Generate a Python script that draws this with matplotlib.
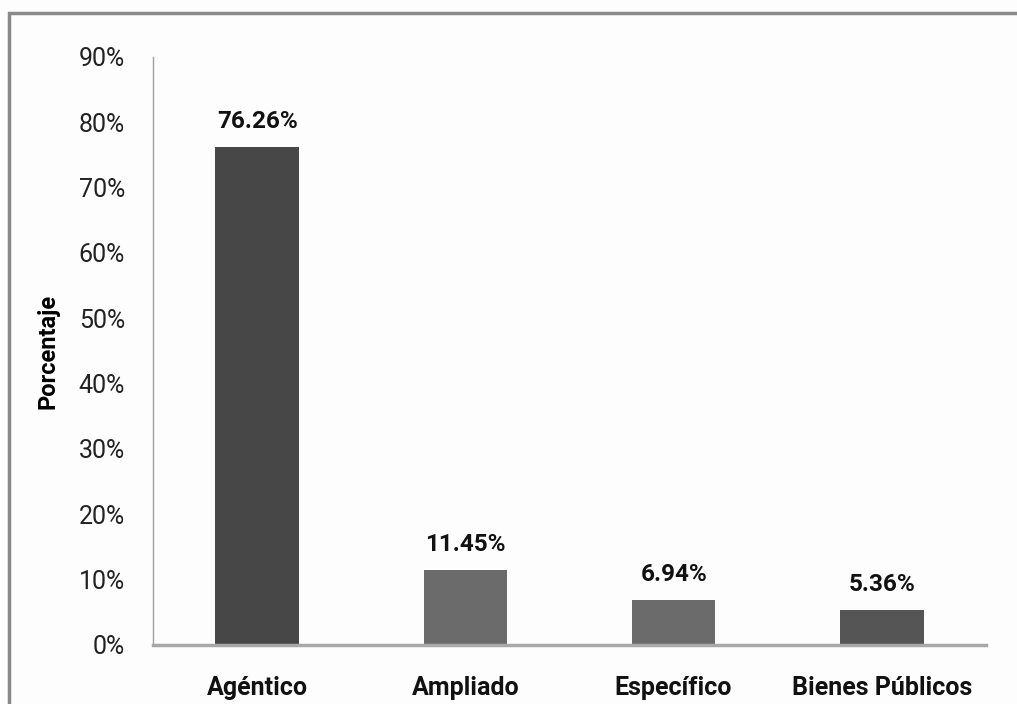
import matplotlib.pyplot as plt
from matplotlib.patches import Rectangle

# datos
categorias = ['Agéntico', 'Ampliado', 'Específico', 'Bienes Públicos']
valores = [76.26, 11.45, 6.94, 5.36]
colores = ['#474747', '#6b6b6b', '#6b6b6b', '#555555']
yticks = [0, 10, 20, 30, 40, 50, 60, 70, 80, 90]

plt.rcParams['font.family'] = ['Roboto', 'DejaVu Sans']

fig = plt.figure(figsize=(10.17, 7.04), dpi=100)
fig.patch.set_facecolor('#fdfdfd')
# marco gris
fig.patches.append(Rectangle((9 / 1017, -0.1), 1.2, 1 - 13 / 704 + 0.1,
                             transform=fig.transFigure, fill=False,
                             edgecolor='#8a8a8a', linewidth=2.5))

ax = fig.add_axes([153 / 1017, 1 - 645 / 704, (986 - 153) / 1017, (645 - 57) / 704])
ax.set_facecolor('#fdfdfd')
x = range(len(categorias))
ax.bar(x, valores, width=0.4, color=colores)
for i, v in enumerate(valores):
    ax.annotate('%.2f%%' % v, (i, v), xytext=(0, 10), textcoords='offset points',
                ha='center', va='bottom', fontsize=17.5, fontweight='bold', color='#111111')

ax.set_xlim(-0.5, 3.5)
ax.set_ylim(0, 90)
ax.set_yticks(yticks)
ax.set_yticklabels(['%d%%' % t for t in yticks], fontsize=18, color='#222222')
ax.set_xticks(list(x))
ax.set_xticklabels(categorias, fontsize=18, fontweight='bold', color='#111111')
ax.tick_params(axis='both', length=0)
ax.tick_params(axis='y', pad=20)
ax.tick_params(axis='x', pad=22)
ax.set_ylabel('Porcentaje', fontsize=17, fontweight='bold', labelpad=14)

for s in ['top', 'right']:
    ax.spines[s].set_visible(False)
ax.spines['left'].set_color('#a0a0a0')
ax.spines['left'].set_linewidth(1)
ax.spines['bottom'].set_color('#a8a8a8')
ax.spines['bottom'].set_linewidth(2.5)

fig.savefig('out.png', dpi=100, facecolor=fig.get_facecolor())
